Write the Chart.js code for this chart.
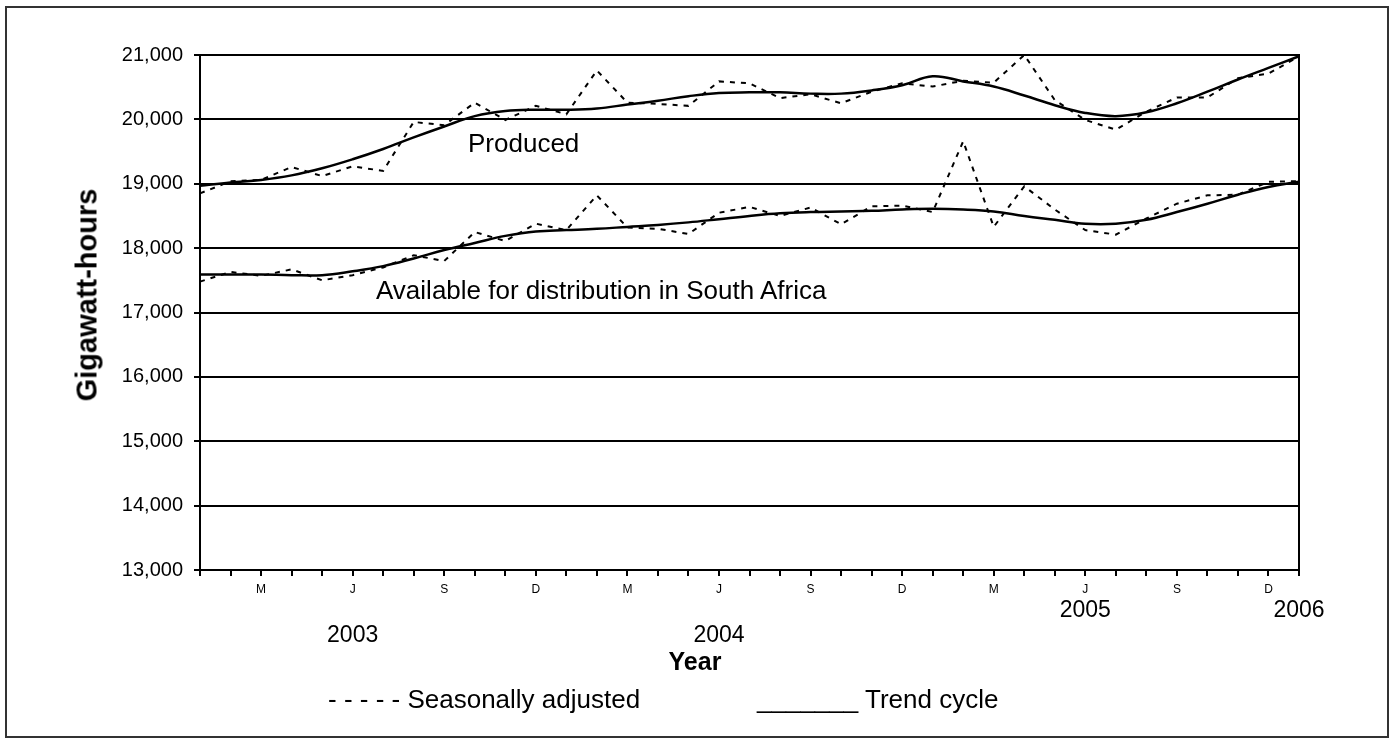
<!DOCTYPE html>
<html>
<head>
<meta charset="utf-8">
<script src="https://cdn.jsdelivr.net/npm/chart.js@4.4.1/dist/chart.umd.min.js"></script>
<style>
  body { margin: 0; background: #fff; }
  #wrap { position: relative; width: 1396px; height: 745px; font-family: "Liberation Sans", Arial, sans-serif; color: #000; }
  #frame { position: absolute; left: 5px; top: 6px; width: 1380px; height: 728px; border: 2px solid #333; box-sizing: content-box; }
  canvas { position: absolute; left: 0; top: 0; }
  .txt { position: absolute; white-space: nowrap; line-height: 1; }
</style>
</head>
<body>
<div id="wrap">
  <div id="frame"></div>
  <canvas id="grafica" width="1396" height="745"></canvas>
  <div class="txt" style="left:468px; top:130px; font-size:26px;">Produced</div>
  <div class="txt" style="left:376px; top:277px; font-size:26px;">Available for distribution in South Africa</div>
  <div class="txt" style="left:87px; top:295px; font-size:29px; font-weight:bold; transform:translate(-50%,-50%) rotate(-90deg);">Gigawatt-hours</div>
  <div class="txt" style="left:695px; top:649px; font-size:25px; font-weight:bold; transform:translateX(-50%);">Year</div>
  <div class="txt" style="left:328px; top:686px; font-size:26px;">- - - - - Seasonally adjusted</div>
  <div class="txt" style="left:757px; top:686px; font-size:26px;">_______ Trend cycle</div>
</div>
<script>
// meses ene 2003 - ene 2006
const categories = [
  '2003-01','2003-02','2003-03','2003-04','2003-05','2003-06','2003-07','2003-08','2003-09','2003-10','2003-11','2003-12',
  '2004-01','2004-02','2004-03','2004-04','2004-05','2004-06','2004-07','2004-08','2004-09','2004-10','2004-11','2004-12',
  '2005-01','2005-02','2005-03','2005-04','2005-05','2005-06','2005-07','2005-08','2005-09','2005-10','2005-11','2005-12',
  '2006-01'
];
const tickLabels = [
  '','','M','','','J','','','S','','','D',
  '','','M','','','J','','','S','','','D',
  '','','M','','','J','','','S','','','D',
  ''
];
const yearLabels = ['2003', '2004', '2005', '2006'];
const yearAt     = ['2003-06', '2004-06', '2005-06', '2006-01'];

const producedTrend = [18970,19020,19060,19130,19240,19380,19540,19720,19890,20050,20130,20150,
                       20150,20170,20230,20290,20360,20410,20420,20420,20400,20400,20450,20530,
                       20670,20590,20510,20370,20220,20100,20050,20110,20250,20430,20620,20800,
                       20980];
const producedSA    = [18850,19040,19060,19260,19120,19270,19200,19960,19910,20260,19990,20210,
                       20080,20760,20260,20240,20210,20590,20560,20330,20390,20250,20430,20560,
                       20510,20600,20570,21000,20300,19990,19840,20120,20340,20340,20640,20710,
                       20980];
const availTrend    = [17590,17590,17590,17580,17580,17640,17720,17840,17970,18080,18190,18260,
                       18280,18300,18330,18360,18400,18450,18500,18540,18560,18570,18580,18600,
                       18610,18600,18570,18500,18440,18380,18380,18440,18560,18690,18830,18950,
                       19030];
const availSA       = [17480,17630,17570,17670,17500,17580,17700,17890,17800,18250,18110,18380,
                       18280,18820,18320,18300,18220,18550,18640,18500,18630,18370,18650,18660,
                       18560,19660,18330,18960,18600,18280,18210,18460,18690,18820,18830,19030,
                       19040];

Chart.defaults.font.family = '"Liberation Sans", Arial, sans-serif';
Chart.defaults.color = '#000';

// etiquetas de año debajo de los meses
const yearOffsets = [636, 636, 611, 611];
const yearPlugin = {
  id: 'years',
  afterDraw(chart) {
    const ctx = chart.ctx;
    const x = chart.scales.x;
    ctx.save();
    ctx.font = '23px "Liberation Sans", Arial, sans-serif';
    ctx.fillStyle = '#000';
    ctx.textAlign = 'center';
    ctx.textBaseline = 'middle';
    yearLabels.forEach((t, i) => {
      ctx.fillText(t, x.getPixelForValue(categories.indexOf(yearAt[i])), yearOffsets[i]);
    });
    ctx.restore();
  }
};

const trendStyle = { borderColor: '#000', borderWidth: 2.5, tension: 0.4, pointRadius: 0, fill: false };
const saStyle    = { borderColor: '#000', borderWidth: 2, borderDash: [5, 6], tension: 0, pointRadius: 0, fill: false };

new Chart(document.getElementById('grafica'), {
  type: 'line',
  data: {
    labels: categories,
    datasets: [
      Object.assign({ label: 'Produced - Trend cycle', data: producedTrend }, trendStyle),
      Object.assign({ label: 'Produced - Seasonally adjusted', data: producedSA }, saStyle),
      Object.assign({ label: 'Available - Trend cycle', data: availTrend }, trendStyle),
      Object.assign({ label: 'Available - Seasonally adjusted', data: availSA }, saStyle)
    ]
  },
  options: {
    responsive: false,
    animation: false,
    devicePixelRatio: 1,
    layout: { padding: { left: 0, top: 55, right: 97, bottom: 115 } },
    plugins: { legend: { display: false }, tooltip: { enabled: false } },
    scales: {
      x: {
        offset: false,
        grid: { display: true, drawOnChartArea: false, drawTicks: true, tickLength: 6, color: '#000', lineWidth: 2 },
        border: { display: true, color: '#000', width: 2 },
        ticks: { autoSkip: false, maxRotation: 0, padding: 6, font: { size: 12 }, callback: (v, i) => tickLabels[i] },
        afterFit: (s) => { s.height = 60; }
      },
      y: {
        min: 13000,
        max: 21000,
        ticks: { stepSize: 1000, font: { size: 20 }, padding: 11 },
        grid: { color: '#000', lineWidth: 2, tickLength: 6 },
        border: { color: '#000', width: 2 },
        afterFit: (s) => { s.width = 200; }
      },
      borde: {
        position: 'right',
        grid: { drawOnChartArea: false, drawTicks: false },
        ticks: { display: false },
        border: { display: true, color: '#000', width: 2 },
        afterFit: (s) => { s.width = 0; }
      }
    }
  },
  plugins: [yearPlugin]
});
</script>
</body>
</html>
